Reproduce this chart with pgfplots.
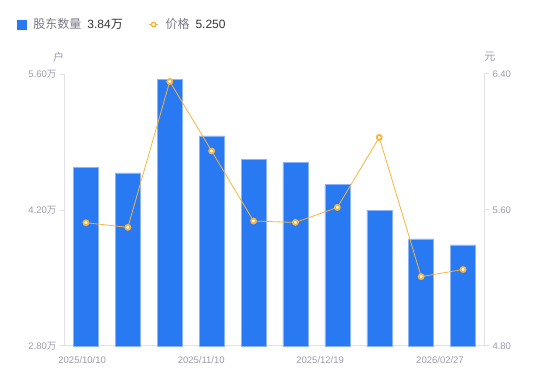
\documentclass[border=0pt]{standalone}
\usepackage{pgfplots}
\pgfplotsset{compat=1.18}
\usepackage{fontspec}
\setmainfont{Liberation Sans}
\newfontfamily\cjk{Noto Sans CJK SC}
\definecolor{barblue}{RGB}{41,121,242}
\definecolor{baredge}{RGB}{140,180,248}
\definecolor{lineorange}{RGB}{247,181,58}
\definecolor{axgray}{RGB}{224,224,230}
\definecolor{tickgray}{RGB}{155,155,170}
\definecolor{legtext}{RGB}{120,120,135}
\definecolor{legval}{RGB}{51,51,51}
\begin{document}
\begin{tikzpicture}[font=\fontsize{9.5pt}{11pt}\selectfont]
\path[use as bounding box] (0,0) rectangle (550pt,381pt);
\begin{axis}[
  at={(65pt,35pt)}, anchor=south west, scale only axis, width=419pt, height=272pt,
  xmin=-0.5, xmax=9.5, ymin=2.8, ymax=5.6,
  axis y line*=left, axis x line*=bottom,
  axis line style={axgray, line width=1pt},
  xtick={-0.09,2.75,5.59,8.45},
  xticklabels={2025/10/10,2025/11/10,2025/12/19,2026/02/27},
  x tick style={draw=none},
  xticklabel style={yshift=-2pt},
  ytick={2.8,4.2,5.6},
  yticklabels={2.80{\cjk 万},4.20{\cjk 万},5.60{\cjk 万}},
  y tick style={axgray, line width=1pt},
  major tick length=5pt, tick align=outside,
  ticklabel style={tickgray, font=\fontsize{9.5pt}{11pt}\selectfont},
  ybar, bar width=25pt, clip=false,
]
\addplot[fill=barblue, draw=baredge, line width=0.5pt, bar shift=0pt] coordinates {
(0,4.637) (1,4.581) (2,5.545) (3,4.963) (4,4.719) (5,4.689) (6,4.461) (7,4.199) (8,3.904) (9,3.84)};
\node[tickgray, font=\cjk\fontsize{11pt}{12pt}\selectfont] at (axis description cs:-0.0155,1.0625) {户};
\end{axis}
\begin{axis}[
  at={(65pt,35pt)}, anchor=south west, scale only axis, width=419pt, height=272pt,
  xmin=-0.5, xmax=9.5, ymin=4.8, ymax=6.4,
  axis y line*=right, axis x line=none,
  axis line style={axgray, line width=1pt},
  ytick={4.8,5.6,6.4}, yticklabels={4.80,5.60,6.40},
  y tick style={axgray, line width=1pt},
  major tick length=5pt, tick align=outside,
  ticklabel style={tickgray, font=\fontsize{9.5pt}{11pt}\selectfont},
  clip=false,
  legend style={at={(axis description cs:-0.115,1.182)}, anchor=west, draw=none, fill=none,
    inner sep=0pt, font=\fontsize{12pt}{14pt}\selectfont, text=legtext,
    /tikz/every odd column/.append style={column sep=5pt},
    /tikz/every even column/.append style={column sep=24pt}},
  legend columns=2,
]
\addlegendimage{legend image code/.code={\fill[barblue] (0pt,-4.5pt) rectangle (9pt,4.5pt);}}
\addlegendentry{{\cjk 股东数量}\hspace{6pt}\textcolor{legval}{3.84{\cjk 万}}}
\addplot[lineorange, line width=0.8pt, mark=*, mark size=2.5pt,
  mark options={fill=white, draw=lineorange, line width=1.8pt},
  legend image code/.code={\draw[lineorange, line width=0.8pt] (0pt,0pt) -- (9pt,0pt);
    \draw[lineorange, fill=white, line width=1.4pt] (4.5pt,0pt) circle (2.2pt);}] coordinates {
(0,5.525) (1,5.498) (2,6.356) (3,5.947) (4,5.535) (5,5.527) (6,5.615) (7,6.027) (8,5.208) (9,5.25)};
\addlegendentry{{\cjk 价格}\hspace{6pt}\textcolor{legval}{5.250}}
\node[tickgray, font=\cjk\fontsize{11pt}{12pt}\selectfont] at (axis description cs:1.014,1.0625) {元};
\end{axis}
\end{tikzpicture}
\end{document}
